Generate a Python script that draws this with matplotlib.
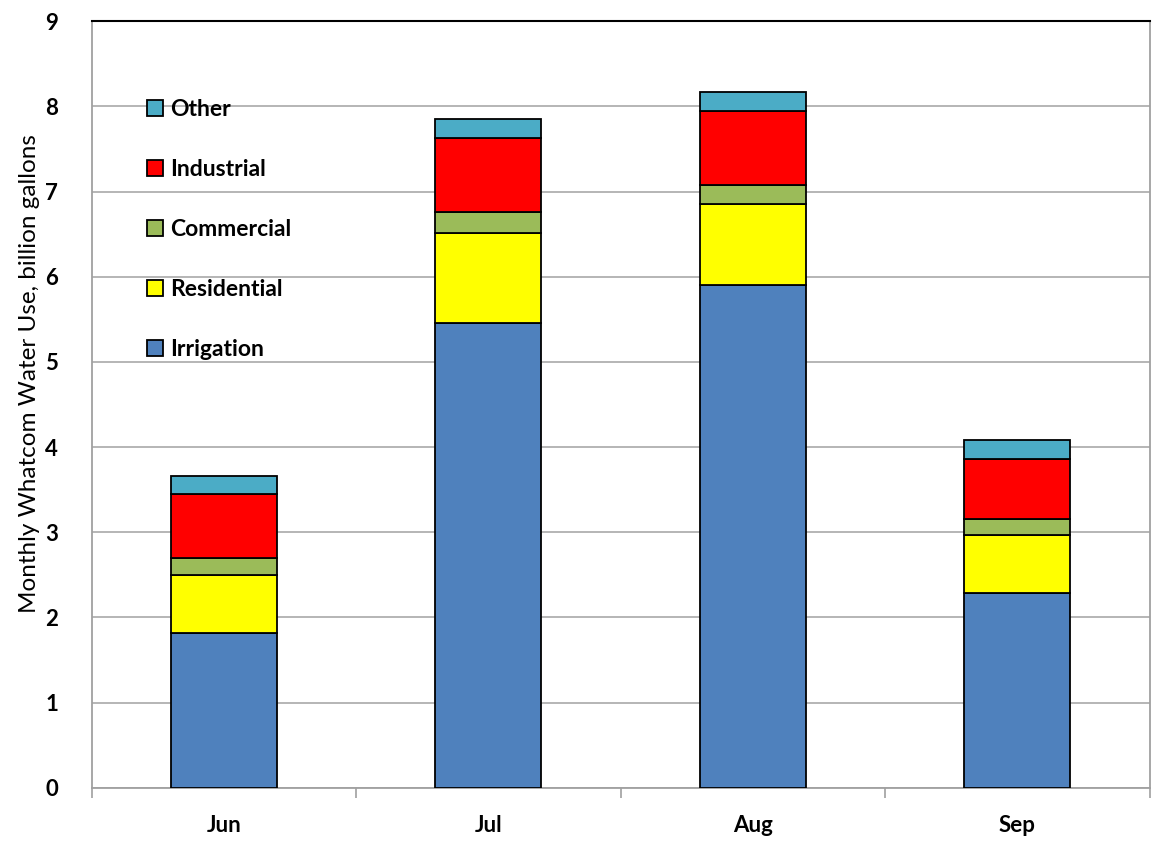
import matplotlib.pyplot as plt
import numpy as np

# data (billion gallons)
months = ['Jun', 'Jul', 'Aug', 'Sep']
irrigation = [1.82, 5.46, 5.90, 2.29]
residential = [0.68, 1.05, 0.95, 0.68]
commercial = [0.20, 0.25, 0.23, 0.18]
industrial = [0.75, 0.87, 0.87, 0.71]
other = [0.21, 0.22, 0.22, 0.22]

series = [
    ('Irrigation', irrigation, '#4f81bd'),
    ('Residential', residential, '#ffff00'),
    ('Commercial', commercial, '#9bbb59'),
    ('Industrial', industrial, '#ff0000'),
    ('Other', other, '#4bacc6'),
]

plt.rcParams['font.family'] = ['Lato', 'DejaVu Sans']

fig, ax = plt.subplots(figsize=(11.6, 8.47), dpi=100)
fig.subplots_adjust(left=0.079, right=0.991, top=0.975, bottom=0.07)

x = np.arange(len(months))
bottom = np.zeros(len(months))
bars = []
for name, vals, col in series:
    b = ax.bar(x, vals, 0.4, bottom=bottom, color=col, edgecolor='black',
               linewidth=1.3, label=name, zorder=3)
    bars.append(b)
    bottom += np.array(vals)

ax.set_xlim(-0.5, 3.5)
ax.set_ylim(0, 9)
ax.set_yticks(range(10))
ax.set_xticks(x)
ax.set_xticklabels(months, fontsize=16, fontweight='bold')
ax.set_xticks(np.arange(-0.5, 4, 1), minor=True)
ax.tick_params(axis='x', which='major', length=0, pad=20)
ax.tick_params(axis='x', which='minor', length=7, color='#a0a0a0', width=1.2)
ax.tick_params(axis='y', length=0, labelsize=16, pad=24)
for lbl in ax.get_yticklabels():
    lbl.set_fontweight('bold')

ax.grid(axis='y', color='#b0b0b0', linewidth=1.3, zorder=0)
for s in ['left', 'bottom', 'right']:
    ax.spines[s].set_color('#a0a0a0')
    ax.spines[s].set_linewidth(1.3)
ax.spines['top'].set_color('black')
ax.spines['top'].set_linewidth(1.5)

ax.set_ylabel('Monthly Whatcom Water Use, billion gallons', fontsize=17.5)
ax.yaxis.set_label_coords(-0.049, 0.54)

handles = bars[::-1]
labels = [s[0] for s in series][::-1]
ax.legend(handles, labels, loc='upper left', bbox_to_anchor=(0.033, 0.925),
          frameon=False, prop={'size': 16.5, 'weight': 'bold'},
          labelspacing=1.7, handlelength=0.7, handleheight=0.7,
          handletextpad=0.3)

plt.savefig('out.png')
